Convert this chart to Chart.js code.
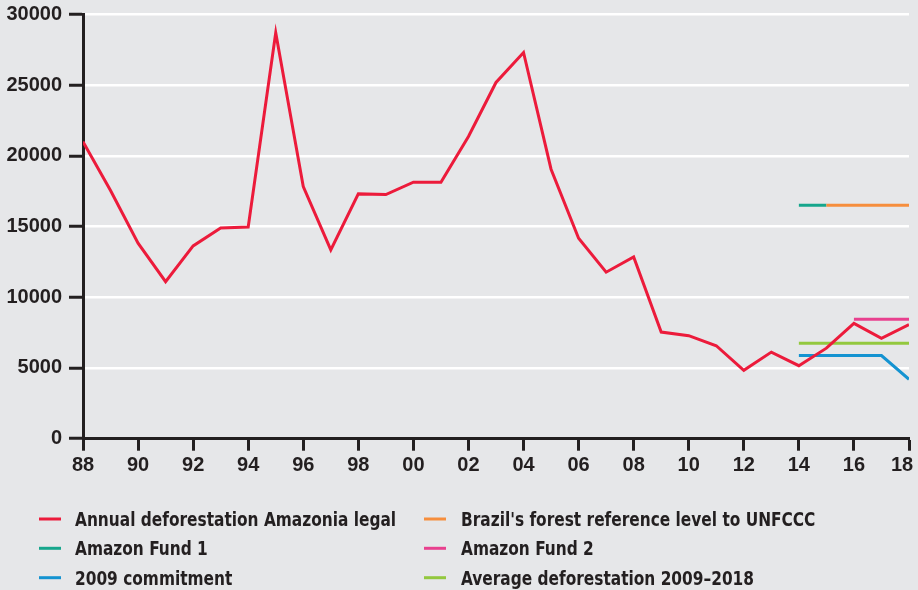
<!DOCTYPE html>
<html>
<head>
<meta charset="utf-8">
<script src="https://cdn.jsdelivr.net/npm/chart.js@4.4.1/dist/chart.umd.min.js"></script>
<style>
  html, body { margin: 0; padding: 0; background: #e6e7e9; }
  #wrap { width: 918px; height: 590px; }
</style>
</head>
<body>
<div id="wrap"><canvas id="myChart" width="918" height="590"></canvas></div>
<script>
// data
var years = [1988, 1989, 1990, 1991, 1992, 1993, 1994, 1995, 1996, 1997, 1998,
  1999, 2000, 2001, 2002, 2003, 2004, 2005, 2006, 2007, 2008, 2009, 2010,
  2011, 2012, 2013, 2014, 2015, 2016, 2017, 2018];
var annual = [21000, 17540, 13820, 11100, 13630, 14900, 14970, 28700, 17820,
  13345, 17305, 17256, 18133, 18130, 21360, 25180, 27300, 19050, 14170,
  11770, 12845, 7540, 7280, 6570, 4830, 6120, 5160, 6400, 8150, 7100, 8060];

var fund1Years = [2014, 2015];
var fund1 = [16500, 16500];
var unfcccYears = [2015, 2018];
var unfccc = [16500, 16500];
var fund2Years = [2016, 2018];
var fund2 = [8450, 8450];
var commitYears = [2014, 2017, 2018];
var commitment = [5880, 5880, 4200];
var avgYears = [2014, 2018];
var average = [6750, 6750];

var yTicks = [0, 5000, 10000, 15000, 20000, 25000, 30000];

function pts(xs, ys) {
  var out = [];
  for (var i = 0; i < xs.length; i++) out.push({ x: xs[i], y: ys[i] });
  return out;
}

var dark = '#231f20';

function line(label, color, data) {
  return {
    label: label,
    data: data,
    borderColor: color,
    backgroundColor: color,
    borderWidth: 3,
    pointRadius: 0,
    tension: 0,
    fill: false
  };
}

var datasets = [
  line('Annual deforestation Amazonia legal', '#ec1b3b', pts(years, annual)),
  line("Brazil's forest reference level to UNFCCC", '#f68e3d', pts(unfcccYears, unfccc)),
  line('Amazon Fund 1', '#16a68c', pts(fund1Years, fund1)),
  line('Amazon Fund 2', '#e8408e', pts(fund2Years, fund2)),
  line('2009 commitment', '#1493d1', pts(commitYears, commitment)),
  line('Average deforestation 2009\u20132018', '#93c83e', pts(avgYears, average))
];

// legend in two columns, three rows
var legendPlugin = {
  id: 'twoColLegend',
  afterDraw: function (chart) {
    var ctx = chart.ctx;
    var cols = [{ mark: 39, text: 75 }, { mark: 424, text: 461 }];
    var rows = [519, 548.3, 577.7];
    var squeeze = 0.9;
    ctx.save();
    ctx.font = 'bold 19px "DejaVu Sans Condensed", "DejaVu Sans", sans-serif';
    ctx.textAlign = 'left';
    ctx.textBaseline = 'alphabetic';
    chart.data.datasets.forEach(function (ds, i) {
      var c = cols[i % 2], r = rows[Math.floor(i / 2)];
      ctx.strokeStyle = ds.borderColor;
      ctx.lineWidth = 3;
      ctx.beginPath();
      ctx.moveTo(c.mark, r);
      ctx.lineTo(c.mark + 22, r);
      ctx.stroke();
      ctx.fillStyle = dark;
      ctx.save();
      ctx.translate(c.text, r + 7);
      ctx.scale(squeeze, 1);
      ctx.fillText(ds.label, 0, 0);
      ctx.restore();
    });
    ctx.restore();
  }
};

new Chart(document.getElementById('myChart'), {
  type: 'line',
  data: { datasets: datasets },
  plugins: [legendPlugin],
  options: {
    responsive: false,
    animation: false,
    layout: { padding: { left: 0, top: 14.3, right: 9, bottom: 111.3 } },
    plugins: { legend: { display: false }, tooltip: { enabled: false } },
    scales: {
      x: {
        type: 'linear',
        min: 1988,
        max: 2018,
        afterFit: function (s) { s.height = 40; s.paddingLeft = 0; s.paddingRight = 0; },
        grid: { drawOnChartArea: false, tickLength: 12, tickColor: dark, tickWidth: 3 },
        border: { color: dark, width: 3 },
        ticks: {
          stepSize: 2,
          autoSkip: false,
          maxRotation: 0,
          padding: 3,
          color: dark,
          font: { family: '"Liberation Sans", Arial, sans-serif', size: 20, weight: 'bold' },
          callback: function (v) {
            var s = String(v).slice(2);
            return v === 2018 ? s + '\u2002\u2009' : s;
          }
        }
      },
      y: {
        min: 0,
        max: 30000,
        afterBuildTicks: function (s) { s.ticks = yTicks.map(function (v) { return { value: v }; }); },
        afterFit: function (s) { s.width = 83; s.paddingTop = 0; s.paddingBottom = 0; },
        grid: {
          color: function (c) { return c.tick && c.tick.value === 0 ? 'rgba(0,0,0,0)' : '#ffffff'; },
          lineWidth: 2.5,
          tickLength: 14,
          tickColor: dark,
          tickWidth: 3
        },
        border: { color: dark, width: 3 },
        ticks: {
          padding: 7,
          color: dark,
          font: { family: '"Liberation Sans", Arial, sans-serif', size: 20, weight: 'bold' },
          callback: function (v) { return String(v); }
        }
      }
    }
  }
});
</script>
</body>
</html>
